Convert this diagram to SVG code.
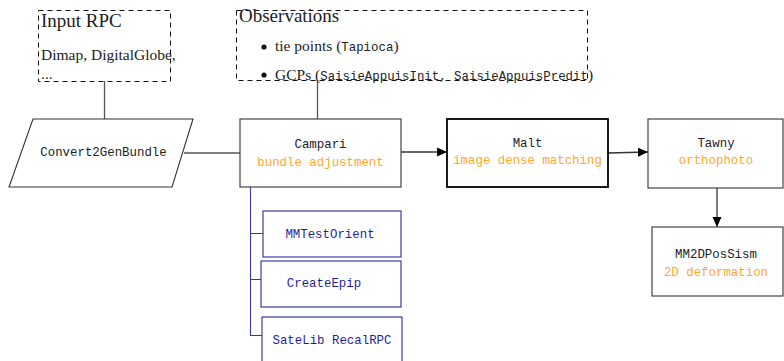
<svg xmlns="http://www.w3.org/2000/svg" width="784" height="361" viewBox="0 0 784 361">
  <style>
    .bg { fill: #ffffff; }
    .note { fill: none; stroke: #111; stroke-width: 1; stroke-dasharray: 5 4; }
    .box { fill: #ffffff; stroke: #333; stroke-width: 1.1; }
    .box-strong { fill: #ffffff; stroke: #000; stroke-width: 1.8; }
    .box-blue { fill: #ffffff; stroke: #2b2b9a; stroke-width: 1.1; }
    .link { fill: none; stroke: #555; stroke-width: 1.3; }
    .link-blue { fill: none; stroke: #3a3aa6; stroke-width: 1.1; }
    .arrow { fill: none; stroke: #333; stroke-width: 1.3; }
    .serif { font-family: "Liberation Serif", "Times New Roman", serif; fill: #222; }
    .title { font-size: 19px; }
    .body { font-size: 15.5px; }
    .mono { font-family: "Liberation Mono", "DejaVu Sans Mono", monospace; font-size: 12.4px; }
    .name { fill: #222; text-anchor: middle; }
    .role { fill: #ffa726; text-anchor: middle; }
    .tool { fill: #1f1f9c; text-anchor: middle; }
  </style>
  <defs>
    <marker id="head" viewBox="0 0 10 10" refX="10" refY="5" markerWidth="10" markerHeight="10" markerUnits="userSpaceOnUse" orient="auto">
      <path d="M0,0.5 L10,5 L0,9.5 Z" fill="#000"/>
    </marker>
  </defs>

  <rect class="bg" x="0" y="0" width="784" height="361"/>

  <!-- connectors -->
  <g id="connectors">
    <line class="link" x1="104.5" y1="81" x2="104.5" y2="119"/>
    <line class="link" x1="317.5" y1="80" x2="317.5" y2="119"/>
    <line class="link" x1="184" y1="153" x2="240" y2="153"/>
    <line class="arrow" x1="401" y1="152" x2="447" y2="152" marker-end="url(#head)"/>
    <line class="arrow" x1="608" y1="153" x2="648" y2="152" marker-end="url(#head)"/>
    <line class="arrow" x1="717" y1="188" x2="717" y2="227" marker-end="url(#head)"/>
    <path class="link-blue" d="M250.5,187 V335.5 H262 M250.5,233.5 H263 M250.5,279.5 H261"/>
  </g>

  <!-- input RPC note -->
  <g id="input-rpc">
    <rect class="note" x="38.5" y="10.5" width="132" height="71"/>
    <text class="serif title" x="41" y="27">Input RPC</text>
    <text class="serif body" x="41" y="60">Dimap, DigitalGlobe,</text>
    <text class="serif body" x="41" y="79">...</text>
  </g>

  <!-- observations note -->
  <g id="observations">
    <rect class="note" x="236.5" y="10.5" width="351" height="70"/>
    <text class="serif title" x="239" y="22">Observations</text>
    <circle cx="264" cy="47" r="2.6" fill="#111"/>
    <text class="serif body" x="275" y="51">tie points (<tspan class="mono" fill="#222">Tapioca</tspan>)</text>
    <circle cx="264" cy="75" r="2.6" fill="#111"/>
    <text class="serif body" x="275" y="80">GCPs (<tspan class="mono" fill="#222">SaisieAppuisInit, SaisieAppuisPredit</tspan>)</text>
  </g>

  <!-- Convert2GenBundle -->
  <g id="convert2genbundle">
    <polygon class="box" points="33,119 193,119 172,187 9,187"/>
    <text class="mono name" x="103.5" y="156">Convert2GenBundle</text>
  </g>

  <!-- Campari -->
  <g id="campari">
    <rect class="box" x="240" y="119" width="161" height="68"/>
    <text class="mono name" x="320.5" y="148">Campari</text>
    <text class="mono role" x="320.5" y="166">bundle adjustment</text>
  </g>

  <!-- Malt -->
  <g id="malt">
    <rect class="box-strong" x="447" y="119" width="161" height="68"/>
    <text class="mono name" x="527.5" y="147">Malt</text>
    <text class="mono role" x="527.5" y="164">image dense matching</text>
  </g>

  <!-- Tawny -->
  <g id="tawny">
    <rect class="box" x="648" y="119" width="135" height="69"/>
    <text class="mono name" x="716" y="147">Tawny</text>
    <text class="mono role" x="716" y="164">orthophoto</text>
  </g>

  <!-- MM2DPosSism -->
  <g id="mm2dpossism">
    <rect class="box" x="652" y="227" width="131" height="69"/>
    <text class="mono name" x="716" y="258">MM2DPosSism</text>
    <text class="mono role" x="716" y="276">2D deformation</text>
  </g>

  <!-- tools hanging off Campari -->
  <g id="mmtestorient">
    <rect class="box-blue" x="263" y="211" width="138" height="46"/>
    <text class="mono tool" x="330" y="238">MMTestOrient</text>
  </g>
  <g id="createepip">
    <rect class="box-blue" x="261" y="261" width="140" height="46"/>
    <text class="mono tool" x="324" y="287">CreateEpip</text>
  </g>
  <g id="satelib-recalrpc">
    <rect class="box-blue" x="262" y="317" width="140" height="50"/>
    <text class="mono tool" x="332" y="344">SateLib RecalRPC</text>
  </g>
</svg>
